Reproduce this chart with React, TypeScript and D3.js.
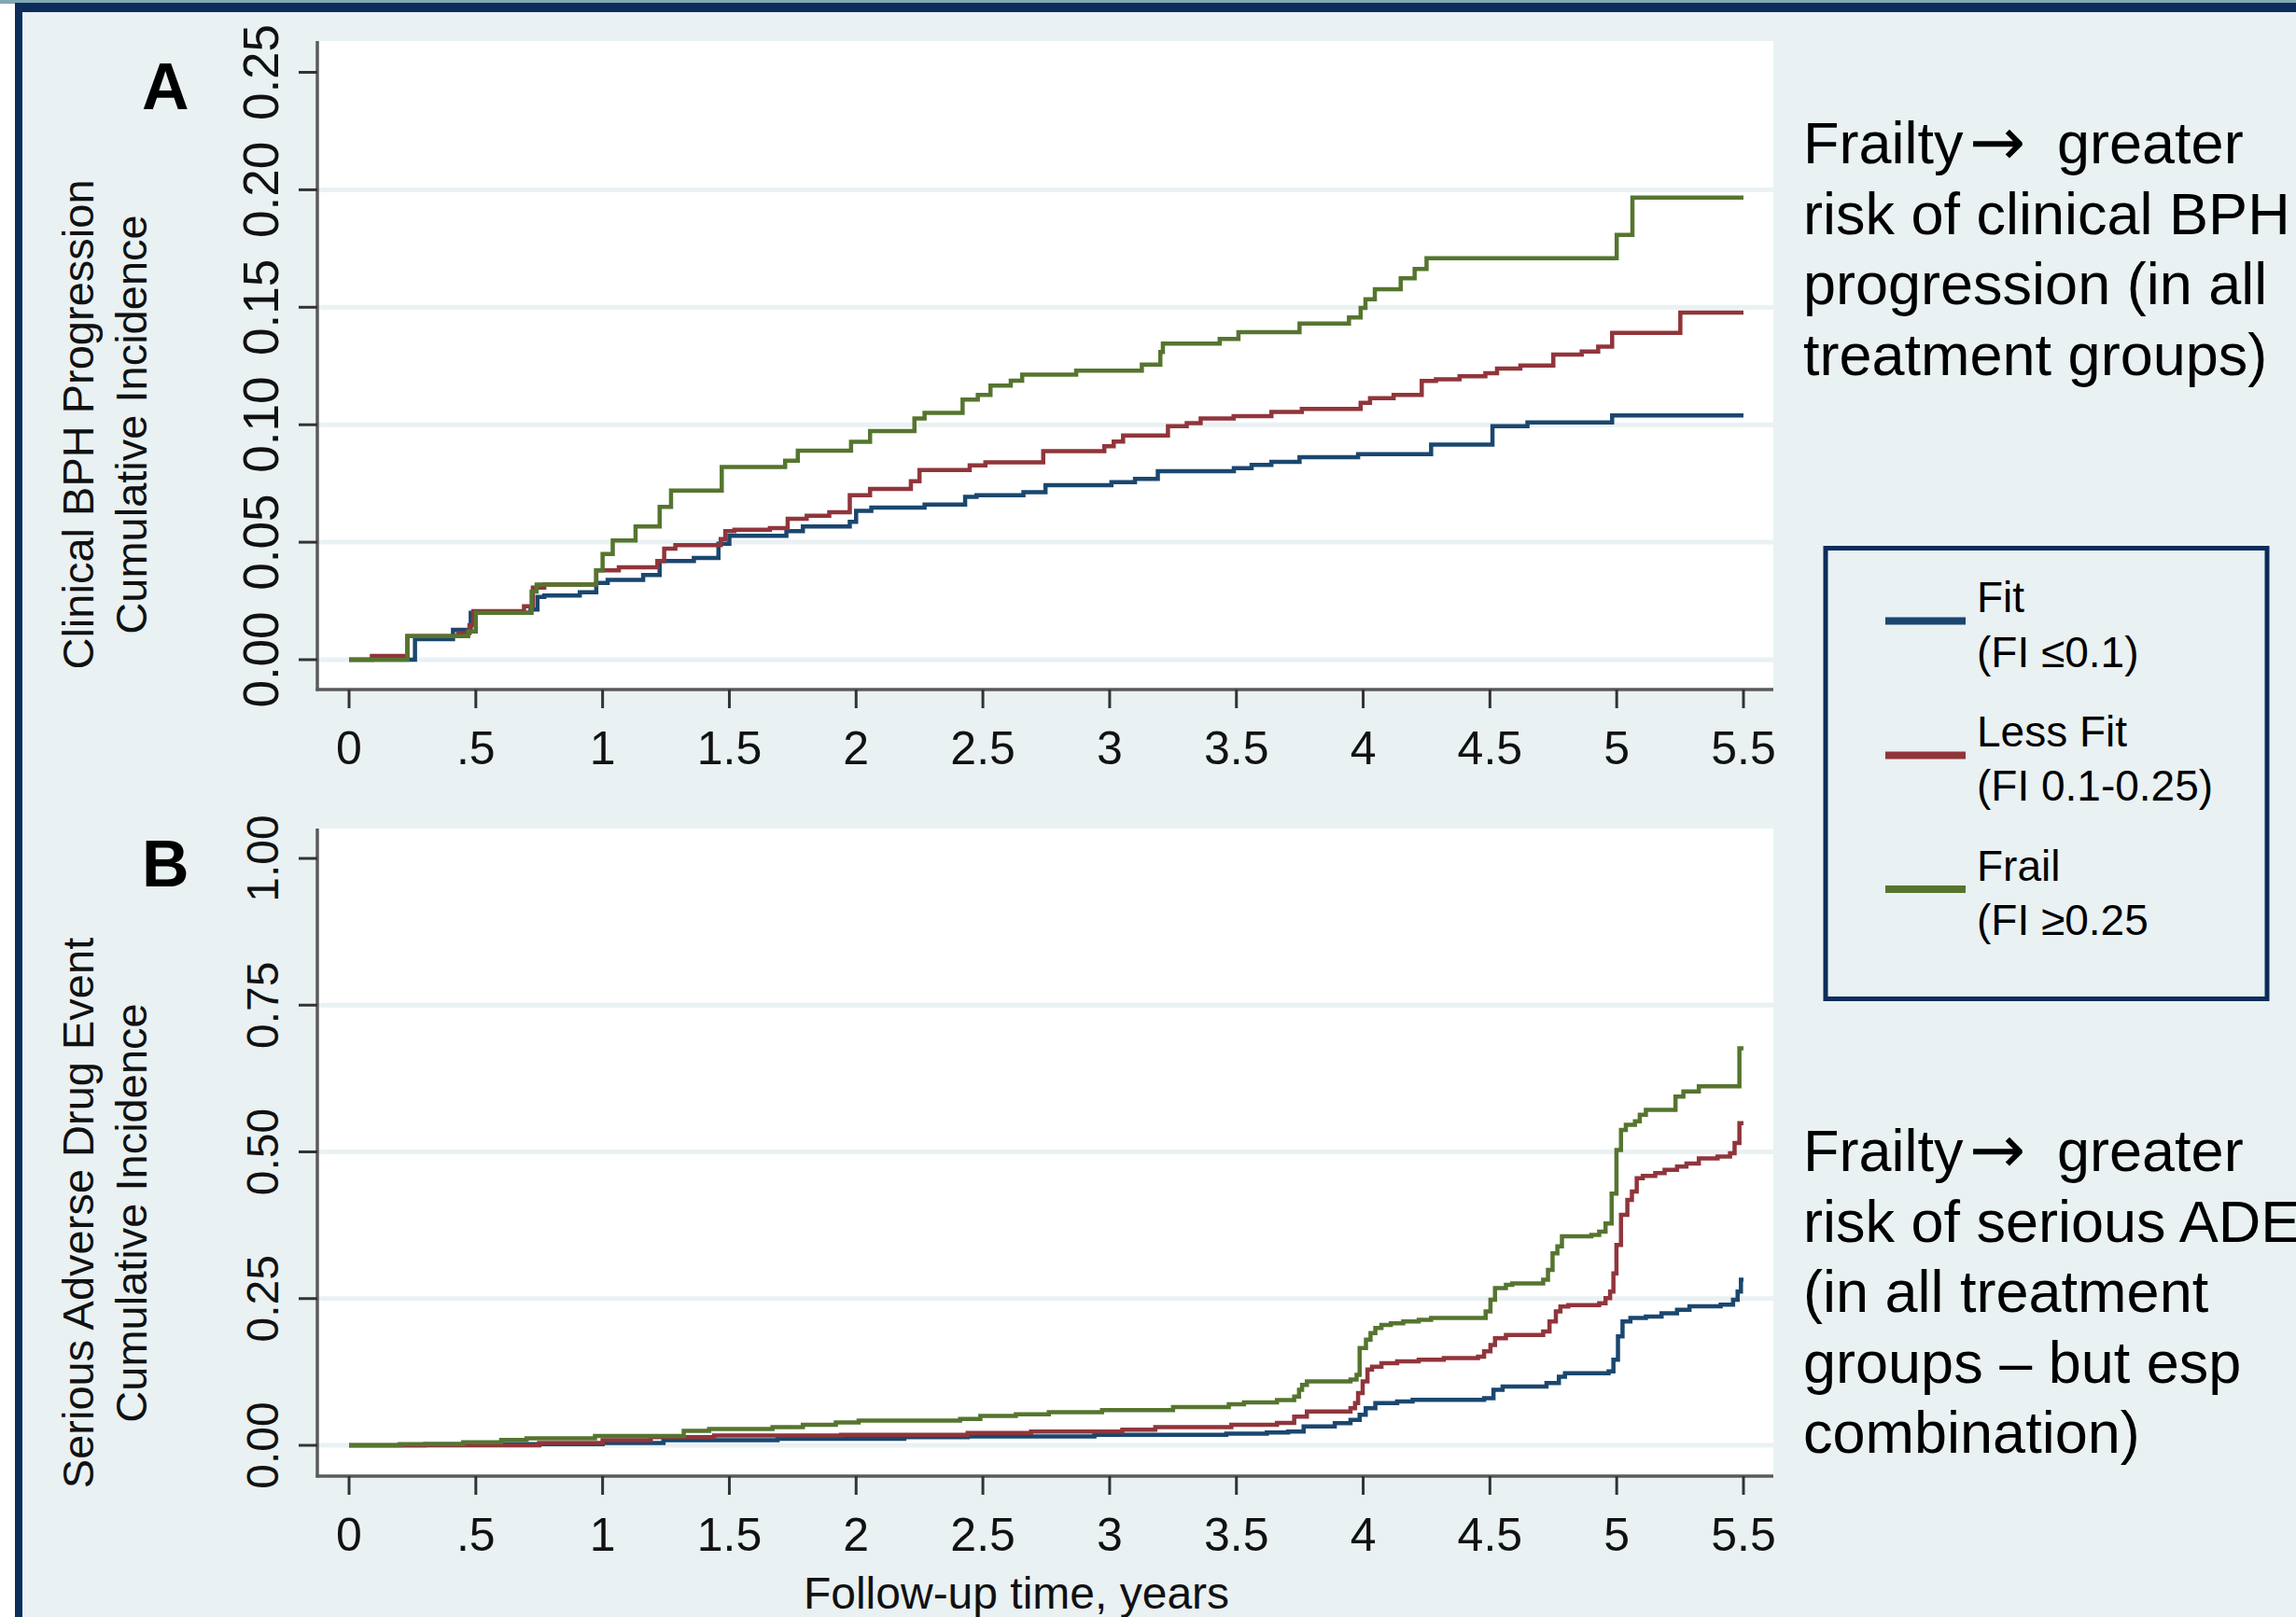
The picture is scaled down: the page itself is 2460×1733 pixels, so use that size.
import React from 'react';
import * as d3 from 'd3';

type Pt = [number, number];

// ---- tick values / labels ----
const xTicks = [0, 0.5, 1, 1.5, 2, 2.5, 3, 3.5, 4, 4.5, 5, 5.5];
const xTickLabels = ['0', '.5', '1', '1.5', '2', '2.5', '3', '3.5', '4', '4.5', '5', '5.5'];
const yTicksA = [0, 0.05, 0.1, 0.15, 0.2, 0.25];
const yTickLabelsA = ['0.00', '0.05', '0.10', '0.15', '0.20', '0.25'];
const yTicksB = [0, 0.25, 0.5, 0.75, 1];
const yTickLabelsB = ['0.00', '0.25', '0.50', '0.75', '1.00'];

// ---- legend ----
const seriesNames = ['Fit', 'Less Fit', 'Frail'];
const seriesSubs = ['(FI \u22640.1)', '(FI 0.1-0.25)', '(FI \u22650.25'];
const seriesColors = ['#1a476f', '#90353b', '#55752f'];

// ---- annotations ----
const noteHead = ['Frailty', '\u2192', 'greater'];
const noteA = ['risk of clinical BPH', 'progression (in all', 'treatment groups)'];
const noteB = ['risk of serious ADE', '(in all treatment', 'groups \u2013 but esp', 'combination)'];

// ---- Panel A: clinical BPH progression (step points: time, cumulative incidence) ----
const bphFit: Pt[] = [[0,0],[0.26,0.0087],[0.41,0.0127],[0.48,0.02],[0.716,0.0213],[0.743,0.0267],[0.77,0.0273],[0.91,0.0287],[0.975,0.0327],[1.02,0.034],[1.16,0.036],[1.225,0.042],[1.36,0.0433],[1.457,0.0493],[1.5,0.0527],[1.725,0.0547],[1.79,0.0567],[1.975,0.0587],[2.0,0.0633],[2.06,0.0647],[2.27,0.066],[2.43,0.0693],[2.475,0.07],[2.66,0.0713],[2.747,0.0743],[3.007,0.0756],[3.1,0.0769],[3.19,0.0802],[3.49,0.0815],[3.56,0.0829],[3.638,0.0842],[3.749,0.0862],[3.98,0.0875],[4.268,0.0915],[4.51,0.0994],[4.648,0.101],[4.982,0.104],[5.5,0.104]];
const bphLessFit: Pt[] = [[0,0],[0.09,0.0016],[0.23,0.01],[0.43,0.0113],[0.475,0.0147],[0.49,0.0207],[0.69,0.0227],[0.725,0.0307],[0.77,0.032],[0.975,0.038],[1.064,0.0393],[1.216,0.042],[1.243,0.0473],[1.287,0.0487],[1.466,0.0513],[1.484,0.0547],[1.52,0.0553],[1.66,0.056],[1.73,0.06],[1.805,0.0613],[1.894,0.0627],[1.975,0.07],[2.055,0.0727],[2.216,0.076],[2.25,0.0807],[2.448,0.0827],[2.51,0.084],[2.738,0.0888],[2.979,0.0908],[3.016,0.0928],[3.053,0.0954],[3.23,0.0994],[3.304,0.1007],[3.359,0.1027],[3.489,0.1037],[3.638,0.1054],[3.758,0.1067],[3.99,0.1093],[4.027,0.1113],[4.12,0.1127],[4.231,0.1186],[4.287,0.1193],[4.38,0.1206],[4.482,0.1219],[4.528,0.1239],[4.62,0.1252],[4.75,0.1299],[4.862,0.1312],[4.927,0.1332],[4.982,0.1391],[5.251,0.1477],[5.5,0.1477]];
const bphFrail: Pt[] = [[0,0],[0.23,0.01],[0.47,0.012],[0.5,0.02],[0.72,0.029],[0.74,0.032],[0.975,0.038],[1.0,0.045],[1.04,0.0507],[1.13,0.0567],[1.225,0.065],[1.27,0.072],[1.47,0.082],[1.72,0.0847],[1.77,0.089],[1.98,0.0927],[2.055,0.0973],[2.23,0.1027],[2.27,0.105],[2.42,0.1107],[2.48,0.1127],[2.53,0.1167],[2.61,0.1187],[2.655,0.1213],[2.868,0.123],[3.127,0.1256],[3.2,0.131],[3.21,0.1345],[3.434,0.1365],[3.508,0.1394],[3.749,0.1431],[3.944,0.1457],[3.99,0.1497],[4.009,0.1534],[4.046,0.1577],[4.148,0.1623],[4.203,0.1663],[4.25,0.1709],[5.0,0.1808],[5.062,0.1967],[5.5,0.1967]];

// ---- Panel B: serious adverse drug event ----
const adeFit: Pt[] = [[0,0],[0.3,0.002],[1.0,0.004],[1.24,0.0087],[1.69,0.011],[2.19,0.014],[2.44,0.015],[2.94,0.018],[3.46,0.02],[3.62,0.022],[3.704,0.0236],[3.765,0.032],[3.888,0.0378],[3.95,0.0435],[3.986,0.052],[4.01,0.063],[4.048,0.072],[4.134,0.0748],[4.195,0.0776],[4.477,0.0804],[4.514,0.0946],[4.55,0.1003],[4.723,0.106],[4.772,0.117],[4.796,0.123],[4.968,0.1258],[4.987,0.1457],[5.005,0.1855],[5.023,0.211],[5.054,0.217],[5.115,0.2195],[5.177,0.225],[5.238,0.231],[5.287,0.2367],[5.41,0.2395],[5.459,0.248],[5.477,0.262],[5.49,0.282],[5.5,0.282]];
const adeLessFit: Pt[] = [[0,0],[0.75,0.004],[1.0,0.0087],[1.19,0.014],[1.44,0.0166],[1.94,0.018],[2.44,0.021],[2.69,0.0235],[3.05,0.0266],[3.18,0.031],[3.48,0.035],[3.66,0.038],[3.728,0.049],[3.778,0.0577],[3.95,0.063],[3.968,0.072],[3.98,0.089],[3.998,0.109],[4.017,0.129],[4.035,0.134],[4.072,0.14],[4.134,0.143],[4.219,0.1457],[4.318,0.1485],[4.453,0.151],[4.477,0.16],[4.502,0.171],[4.52,0.1826],[4.563,0.188],[4.71,0.194],[4.735,0.211],[4.76,0.228],[4.778,0.2365],[4.809,0.239],[4.931,0.242],[4.956,0.2506],[4.974,0.262],[4.987,0.293],[4.999,0.3416],[5.017,0.3927],[5.042,0.418],[5.06,0.4324],[5.079,0.455],[5.103,0.459],[5.152,0.4637],[5.189,0.4694],[5.238,0.475],[5.275,0.48],[5.324,0.489],[5.398,0.492],[5.447,0.4975],[5.465,0.515],[5.484,0.549],[5.5,0.549]];
const adeFrail: Pt[] = [[0,0],[0.2,0.002],[0.45,0.005],[0.6,0.009],[0.7,0.012],[0.97,0.016],[1.32,0.0245],[1.42,0.028],[1.67,0.031],[1.79,0.035],[1.92,0.039],[2.01,0.042],[2.41,0.045],[2.49,0.05],[2.63,0.053],[2.76,0.0565],[2.97,0.06],[3.25,0.065],[3.47,0.07],[3.53,0.073],[3.66,0.077],[3.728,0.083],[3.747,0.0946],[3.759,0.103],[3.778,0.109],[3.95,0.112],[3.974,0.12],[3.986,0.1656],[4.011,0.18],[4.029,0.191],[4.048,0.2],[4.072,0.205],[4.109,0.208],[4.158,0.211],[4.219,0.214],[4.268,0.217],[4.483,0.228],[4.502,0.248],[4.52,0.268],[4.563,0.2735],[4.588,0.276],[4.71,0.282],[4.729,0.299],[4.747,0.327],[4.766,0.339],[4.784,0.356],[4.9,0.3586],[4.931,0.364],[4.956,0.378],[4.98,0.429],[4.999,0.503],[5.017,0.5375],[5.036,0.546],[5.072,0.552],[5.091,0.563],[5.115,0.5715],[5.232,0.594],[5.263,0.603],[5.324,0.6115],[5.484,0.6766],[5.5,0.6766]];

const FONT = '"Liberation Sans", Arial, Helvetica, sans-serif';
const NAVY = '#0c2d5b';
const BG = '#e9f1f3';
const AXIS = '#5a5a5a';
const GRID = '#eaf1f3';

interface PanelProps {
  top: number;
  bottom: number;
  yRange: [number, number];
  yDomain: [number, number];
  yTicks: number[];
  yLabels: string[];
  series: Pt[][];
  titles: [string, string];
  titleY: number;
  letter: string;
  letterY: number;
  yLabelSize: number;
}

function Panel(p: PanelProps) {
  const x = d3.scaleLinear().domain([0, 5.5]).range([374, 1868]);
  const y = d3.scaleLinear().domain(p.yDomain).range(p.yRange);
  const left = 340;
  const right = 1900;
  const line = d3
    .line<Pt>()
    .x((d) => x(d[0]))
    .y((d) => y(d[1]))
    .curve(d3.curveStepAfter);
  const topTick = p.yTicks[p.yTicks.length - 1];
  return (
    <g>
      <rect x={left} y={p.top} width={right - left} height={p.bottom - p.top} fill="#ffffff" />
      {p.yTicks.filter((t) => t !== topTick).map((t) => (
        <line key={'g' + t} x1={left} x2={right} y1={y(t)} y2={y(t)} stroke={GRID} strokeWidth={5} />
      ))}
      {p.series.map((s, i) => (
        <path key={'s' + i} d={line(s) || ''} fill="none" stroke={seriesColors[i]} strokeWidth={4.5} strokeLinejoin="miter" />
      ))}
      <line x1={left} x2={left} y1={p.top} y2={p.bottom + 1.5} stroke={AXIS} strokeWidth={3.5} />
      <line x1={left - 1.5} x2={right} y1={p.bottom} y2={p.bottom} stroke={AXIS} strokeWidth={3.5} />
      {p.yTicks.map((t) => (
        <line key={'yt' + t} x1={left - 20} x2={left} y1={y(t)} y2={y(t)} stroke="#333" strokeWidth={3} />
      ))}
      {xTicks.map((t) => (
        <line key={'xt' + t} x1={x(t)} x2={x(t)} y1={p.bottom} y2={p.bottom + 20} stroke="#333" strokeWidth={3} />
      ))}
      {xTicks.map((t, i) => (
        <text key={'xl' + t} x={x(t)} y={p.bottom + 80} textAnchor="middle" fontFamily={FONT} fontSize={50} fill="#111">
          {xTickLabels[i]}
        </text>
      ))}
      {p.yTicks.map((t, i) => (
        <text
          key={'yl' + t}
          transform={`translate(${298},${y(t)}) rotate(-90)`}
          textAnchor="middle"
          fontFamily={FONT}
          fontSize={p.yLabelSize}
          fill="#111"
        >
          {p.yLabels[i]}
        </text>
      ))}
      <text transform={`translate(100,${p.titleY}) rotate(-90)`} textAnchor="middle" fontFamily={FONT} fontSize={47} fill="#111">
        {p.titles[0]}
      </text>
      <text transform={`translate(157,${p.titleY}) rotate(-90)`} textAnchor="middle" fontFamily={FONT} fontSize={47} fill="#111">
        {p.titles[1]}
      </text>
      <text x={152} y={p.letterY} fontFamily={FONT} fontWeight="bold" fontSize={70} fill="#000">
        {p.letter}
      </text>
    </g>
  );
}

function Note({ y0, lines }: { y0: number; lines: string[] }) {
  return (
    <g>
      <text x={1932} y={y0} fontFamily={FONT} fontSize={63} fill="#000">
        <tspan x={1932}>{noteHead[0]}</tspan>
        <tspan x={2110} fontFamily='"DejaVu Sans", sans-serif' fontSize={72} dy={2}>
          {noteHead[1]}
        </tspan>
        <tspan x={2204} dy={-2}>{noteHead[2]}</tspan>
      </text>
      {lines.map((s, i) => (
        <text key={i} x={1932} y={y0 + (i + 1) * 75.5} fontFamily={FONT} fontSize={63} fill="#000">
          {s}
        </text>
      ))}
    </g>
  );
}

export default function App() {
  const W = 2460;
  const H = 1733;
  const legendLineY = [665.6, 809.4, 953];
  return (
    <svg
      width={W}
      height={H}
      viewBox={`0 0 ${W} ${H}`}
      style={{ position: 'absolute', left: 0, top: 0, display: 'block' }}
    >
      <rect x={0} y={0} width={W} height={H} fill="#ffffff" />
      <rect x={0} y={0} width={W} height={4} fill="#80a9b3" />
      <rect x={16} y={13} width={W - 16} height={H - 13} fill={BG} />
      <rect x={16} y={3} width={W - 16} height={10} fill={NAVY} />
      <rect x={16} y={3} width={8} height={H - 3} fill={NAVY} />

      <Panel
        top={44}
        bottom={739}
        yRange={[707, 77.5]}
        yDomain={[0, 0.25]}
        yTicks={yTicksA}
        yLabels={yTickLabelsA}
        series={[bphFit, bphLessFit, bphFrail]}
        titles={['Clinical BPH Progression', 'Cumulative Incidence']}
        titleY={455}
        letter="A"
        letterY={117}
        yLabelSize={53}
      />
      <Panel
        top={888}
        bottom={1582}
        yRange={[1549, 920]}
        yDomain={[0, 1]}
        yTicks={yTicksB}
        yLabels={yTickLabelsB}
        series={[adeFit, adeLessFit, adeFrail]}
        titles={['Serious Adverse Drug Event', 'Cumulative Incidence']}
        titleY={1300}
        letter="B"
        letterY={950}
        yLabelSize={48}
      />

      <text x={1089} y={1724} textAnchor="middle" fontFamily={FONT} fontSize={48} fill="#111">
        Follow-up time, years
      </text>

      <Note y0={175} lines={noteA} />
      <Note y0={1255} lines={noteB} />

      <rect x={1956} y={587.5} width={473} height={483} fill="none" stroke={NAVY} strokeWidth={5} />
      {seriesNames.map((n, i) => (
        <g key={'lg' + i}>
          <line x1={2020} x2={2106} y1={legendLineY[i]} y2={legendLineY[i]} stroke={seriesColors[i]} strokeWidth={8} />
          <text x={2118} y={legendLineY[i] - 9.5} fontFamily={FONT} fontSize={46} fill="#000">
            {n}
          </text>
          <text x={2118} y={legendLineY[i] + 49} fontFamily={FONT} fontSize={46} fill="#000">
            {seriesSubs[i]}
          </text>
        </g>
      ))}
    </svg>
  );
}
